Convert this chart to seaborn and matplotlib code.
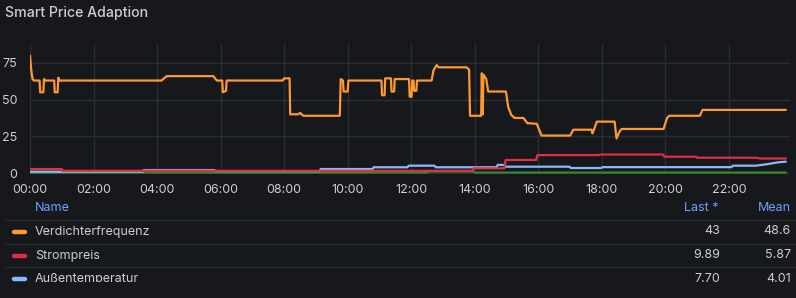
import matplotlib
matplotlib.use("Agg")
import matplotlib.pyplot as plt
import seaborn as sns
import pandas as pd

# ---------------- data (hours since 00:00, value) ----------------
orange_t = [0, 0.04, 0.08, 0.12, 0.30, 0.32, 0.42, 0.44, 0.48, 0.76, 0.78, 0.87, 0.89, 0.93,
            4.14, 4.30, 5.77, 5.88, 6.05, 6.07, 6.17, 6.19, 7.95, 8.00, 8.17, 8.19, 8.45, 8.50,
            8.60, 9.75, 9.78, 9.85, 9.87, 10.00, 10.02, 11.06, 11.08, 11.16, 11.18, 11.36,
            11.38, 11.46, 11.48, 11.93, 11.95, 12.01, 12.03, 12.07, 12.09, 12.16, 12.18, 12.64,
            12.70, 12.80, 12.86, 13.74, 13.82, 13.85, 14.20, 14.22, 14.25, 14.27, 14.30, 14.36,
            14.42, 14.98, 15.05, 15.15, 15.25, 15.53, 15.65, 15.95, 16.10, 17.00, 17.10, 17.67,
            17.70, 17.74, 17.84, 18.40, 18.46, 18.55, 18.62, 19.94, 20.05, 20.12, 21.08, 21.17,
            23.79]
orange_v = [80, 70, 64, 63, 63, 55, 55, 64, 63, 63, 55, 55, 65, 63,
            63, 66, 66, 63, 63, 55, 56, 63, 63, 64.5, 64.5, 40, 40, 41,
            39, 39, 64, 63, 55.5, 55.5, 63, 63, 53, 53, 64.5, 64.5,
            55.5, 55.5, 64, 64, 52, 52, 63, 63, 56, 56, 63, 63,
            70, 73.5, 72, 72, 70.5, 39, 39, 68, 40, 67, 66, 64,
            55.5, 55.5, 45, 39.5, 37.5, 37.5, 34, 33.5, 25.5, 25.5, 29.5, 29.5,
            27, 29, 35, 35, 23.5, 28, 30, 30, 37.5, 39, 39, 43,
            43]

red_t = [0, 1.0, 1.02, 13.93, 13.96, 14.93, 14.97, 15.93, 15.97, 17.90, 17.95, 19.92,
         19.97, 20.96, 21.00, 22.90, 22.95, 23.79]
red_v = [2.7, 2.7, 1.5, 1.5, 3.2, 3.2, 8.9, 8.9, 12.2, 12.2, 12.6, 12.6,
         11.1, 11.1, 10.4, 10.4, 9.89, 9.89]

blue_t = [0, 3.55, 3.58, 5.80, 5.83, 9.12, 9.15, 10.78, 10.82, 11.88, 11.92, 12.73, 12.77,
          14.68, 14.72, 14.93, 14.97, 16.98, 17.02, 17.98, 18.02, 22.08, 22.12, 22.85,
          23.20, 23.55, 23.79]
blue_v = [0.9, 0.9, 2.0, 2.0, 1.3, 1.3, 2.7, 2.7, 3.9, 3.9, 5.0, 5.0, 3.9,
          3.9, 5.5, 5.5, 4.3, 4.3, 3.4, 3.4, 4.0, 4.0, 5.0, 5.0,
          6.0, 7.3, 7.7]

green_t = [0, 12.50, 12.55, 13.95, 14.00, 23.79]
green_v = [0.3, 0.3, 1.0, 1.0, 0.3, 0.3]

names = ["Verdichterfrequenz", "Strompreis", "Außentemperatur"]
last_vals = ["43", "9.89", "7.70"]
mean_vals = ["48.6", "5.87", "4.01"]
y_ticks = [0, 25, 50, 75]
x_ticks = list(range(0, 24, 2))
x_labels = [f"{h:02d}:00" for h in x_ticks]

colors = {"Verdichterfrequenz": "#FF9830", "Strompreis": "#E02F44",
          "Außentemperatur": "#8AB8FF", "Green": "#37872D"}

# ---------------- styling ----------------
BG = "#16181c"
TXT = "#ccccdc"
GRID = "#2a2d33"
sns.set_theme(style="dark")
plt.rcParams["font.family"] = ["Inter", "DejaVu Sans"]

W, H = 796, 298
fig = plt.figure(figsize=(W / 100, H / 100), dpi=100, facecolor=BG)

def fx(px):
    return px / W

def fy(py):
    return 1 - py / H

ax = fig.add_axes([fx(30), fy(174), fx(760), 130 / H])
ax.set_facecolor(BG)

frames = []
for nm, tt, vv in [("Green", green_t, green_v),
                   ("Außentemperatur", blue_t, blue_v),
                   ("Strompreis", red_t, red_v),
                   ("Verdichterfrequenz", orange_t, orange_v)]:
    frames.append(pd.DataFrame({"t": tt, "v": vv, "series": nm}))

for df in frames:
    nm = df["series"].iloc[0]
    sns.lineplot(data=df, x="t", y="v", ax=ax, color=colors[nm], lw=1.6,
                 sort=False, estimator=None, legend=False)

ax.set_xlim(0, 23.92)
ax.set_ylim(-0.68, 87.9)
ax.set_xticks(x_ticks)
ax.set_xticklabels(x_labels)
ax.set_yticks(y_ticks)
ax.set_xlabel("")
ax.set_ylabel("")
ax.grid(True, color=GRID, lw=1)
for s in ax.spines.values():
    s.set_visible(False)
ax.tick_params(axis="both", length=0, colors=TXT, labelsize=9)
ax.tick_params(axis="x", pad=7)
ax.tick_params(axis="y", pad=9)

# title
fig.text(fx(5), fy(13), "Smart Price Adaption", color=TXT, fontsize=10.2,
         fontweight="medium", va="center", ha="left")

# ---------------- legend table ----------------
CLIP = 282.3
lg = fig.add_axes([0, fy(CLIP), 1, (CLIP - 196) / H])
lg.set_xlim(0, W)
lg.set_ylim(CLIP, 196)
lg.axis("off")
lg.patch.set_alpha(0)

HDR = "#6E9FFF"
lg.text(35, 208, "Name", color=HDR, fontsize=9, va="center", ha="left")
lg.text(719, 208, "Last *", color=HDR, fontsize=9, va="center", ha="right")
lg.text(791, 208, "Mean", color=HDR, fontsize=9, va="center", ha="right")

for yy in [219.5, 243.5, 267.0]:
    lg.plot([5, 796], [yy, yy], color="#2a2d33", lw=1, clip_on=True)

rows_y = [231.5, 255.5, 279.0]
for nm, lv, mv, yy in zip(names, last_vals, mean_vals, rows_y):
    lg.plot([14, 25], [yy, yy], color=colors[nm], lw=3.2, solid_capstyle="round", clip_on=False)
    lg.text(35, yy, nm, color=TXT, fontsize=9, va="center", ha="left", clip_on=True)
    lg.text(720, yy, lv, color=TXT, fontsize=9, va="center", ha="right", clip_on=True)
    lg.text(791, yy, mv, color=TXT, fontsize=9, va="center", ha="right", clip_on=True)

fig.savefig("out.png", dpi=100, facecolor=BG)
